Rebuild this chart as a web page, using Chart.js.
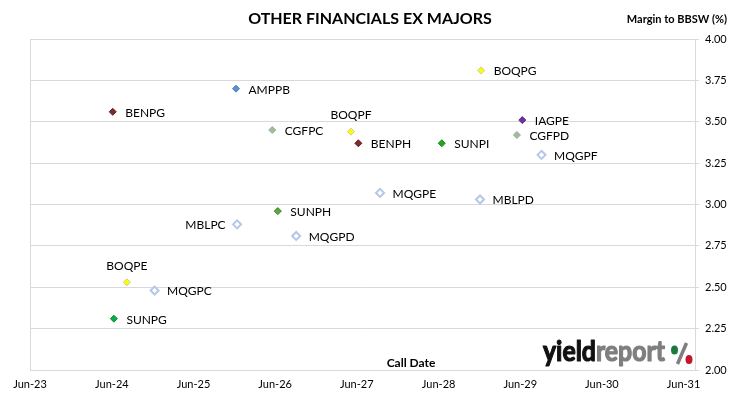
<!DOCTYPE html>
<html>
<head>
<meta charset="utf-8">
<script src="https://cdn.jsdelivr.net/npm/chart.js@4.4.0/dist/chart.umd.min.js"></script>
<style>
  html, body { margin: 0; padding: 0; background: #fff; }
  #wrap { width: 730px; height: 399px; }
</style>
</head>
<body>
<div id="wrap"><canvas id="chart" width="730" height="399"></canvas></div>
<script>
// data
const securities = ['BENPG', 'AMPPB', 'CGFPC', 'BOQPF', 'BENPH', 'SUNPI', 'BOQPG', 'IAGPE', 'CGFPD',
                    'MQGPF', 'MQGPE', 'MBLPD', 'SUNPH', 'MBLPC', 'MQGPD', 'BOQPE', 'MQGPC', 'SUNPG'];
const callDates = ['2024-06-05', '2025-12-08', '2026-05-19', '2027-05-06', '2027-06-08', '2028-06-15',
                   '2028-12-08', '2029-06-10', '2029-05-17', '2029-09-04', '2027-09-13', '2028-12-03',
                   '2026-06-13', '2025-12-13', '2026-09-03', '2024-08-07', '2024-12-09', '2024-06-10'];
const margins = [3.56, 3.70, 3.45, 3.44, 3.37, 3.37, 3.81, 3.51, 3.42,
                 3.30, 3.07, 3.03, 2.96, 2.88, 2.81, 2.53, 2.48, 2.31];
const xTickDates = ['2023-06-01', '2024-06-01', '2025-06-01', '2026-06-01', '2027-06-01',
                    '2028-06-01', '2029-06-01', '2030-06-01', '2031-06-01'];
const xTickLabels = ['Jun-23', 'Jun-24', 'Jun-25', 'Jun-26', 'Jun-27', 'Jun-28', 'Jun-29', 'Jun-30', 'Jun-31'];
const yTicks = [2.00, 2.25, 2.50, 2.75, 3.00, 3.25, 3.50, 3.75, 4.00];

// per-issuer marker look
const issuerStyle = {
    BEN: { fill: '#7b2b2b', border: '#5e2020', r: 3.5, bw: 1 },
    AMP: { fill: '#5b8fd6', border: '#4a7cc0', r: 3.5, bw: 1 },
    CGF: { fill: '#a9bd82', border: '#8ea9c8', r: 3.5, bw: 1 },
    BOQ: { fill: '#ffff00', border: '#c9c99a', r: 3.5, bw: 1 },
    SUN: { fill: '#22a524', border: '#1b8a1d', r: 3.5, bw: 1 },
    IAG: { fill: '#7030a0', border: '#5c2785', r: 3.5, bw: 1 },
    MQG: { fill: '#ffffff', border: '#b4c7e7', r: 4, bw: 2 },
    MBL: { fill: '#ffffff', border: '#b4c7e7', r: 4, bw: 2 }
};
const sunColours = { SUNPG: '#00b050', SUNPH: '#6e9f3c', SUNPI: '#22a524' };
const labelSide = { BOQPF: 'above', BOQPE: 'above', MBLPC: 'left' };

const FONT = 'Lato, "Open Sans", sans-serif';
const base = Date.UTC(2023, 5, 1);
function yearsFromBase(s) {
    const p = s.split('-').map(Number);
    return (Date.UTC(p[0], p[1] - 1, p[2]) - base) / (365.25 * 86400000);
}

const xValues = callDates.map(yearsFromBase);
const xTicks = xTickDates.map(yearsFromBase);
const points = securities.map((s, i) => ({ x: xValues[i], y: margins[i] }));

const styles = securities.map(s => issuerStyle[s.slice(0, 3)]);
const fills = securities.map((s, i) => sunColours[s] || styles[i].fill);

const textPlugin = {
    id: 'texts',
    beforeDraw(chart) {
        const ctx = chart.ctx, a = chart.chartArea;
        ctx.save();
        ctx.strokeStyle = '#d9d9d9';
        ctx.lineWidth = 1;
        ctx.beginPath();
        ctx.moveTo(Math.round(a.left) + 0.5, a.top);
        ctx.lineTo(Math.round(a.left) + 0.5, a.bottom);
        ctx.stroke();
        ctx.restore();
    },
    afterDatasetsDraw(chart) {
        const ctx = chart.ctx;
        const meta = chart.getDatasetMeta(0);
        ctx.save();
        ctx.fillStyle = '#000';
        ctx.font = '12px ' + FONT;
        meta.data.forEach((pt, i) => {
            const name = securities[i];
            const side = labelSide[name] || 'right';
            if (side === 'right') {
                ctx.textAlign = 'left'; ctx.textBaseline = 'middle';
                ctx.fillText(name, pt.x + 12.5, pt.y + 1);
            } else if (side === 'left') {
                ctx.textAlign = 'right'; ctx.textBaseline = 'middle';
                ctx.fillText(name, pt.x - 11.5, pt.y + 1);
            } else {
                ctx.textAlign = 'center'; ctx.textBaseline = 'middle';
                ctx.fillText(name, pt.x, pt.y - 16.5);
            }
        });

        // titles
        ctx.textBaseline = 'middle';
        ctx.textAlign = 'center';
        ctx.font = 'bold 16px ' + FONT;
        ctx.fillText('OTHER FINANCIALS EX MAJORS', 370, 19);
        ctx.textAlign = 'right';
        ctx.font = 'bold 11px ' + FONT;
        ctx.fillText('Margin to BBSW (%)', 727, 19);
        ctx.textAlign = 'center';
        ctx.font = 'bold 12px ' + FONT;
        ctx.fillText('Call Date', 411, 363);

        // yieldreport logo
        ctx.textAlign = 'left';
        ctx.textBaseline = 'alphabetic';
        ctx.font = 'bold 28px ' + FONT;
        const w1 = ctx.measureText('yield').width;
        const w2 = ctx.measureText('report').width;
        const sx = 122 / (w1 + w2);
        ctx.save();
        ctx.translate(543, 361);
        ctx.scale(sx, 1);
        ctx.lineWidth = 1.2;
        ctx.lineJoin = 'round';
        ctx.fillStyle = ctx.strokeStyle = '#111';
        ctx.fillText('yield', 0, 0);
        ctx.strokeText('yield', 0, 0);
        ctx.fillStyle = ctx.strokeStyle = '#7f7f7f';
        ctx.fillText('report', w1, 0);
        ctx.strokeText('report', w1, 0);
        ctx.restore();
        ctx.strokeStyle = '#7f7f7f';
        ctx.lineWidth = 3.5;
        ctx.beginPath();
        ctx.moveTo(677.5, 364);
        ctx.lineTo(686.5, 343);
        ctx.stroke();
        ctx.fillStyle = '#1d7a3e';
        ctx.beginPath(); ctx.ellipse(674.5, 350, 3.5, 4.5, 0, 0, Math.PI * 2); ctx.fill();
        ctx.fillStyle = '#c4152c';
        ctx.beginPath(); ctx.ellipse(689, 359.5, 3.5, 4.5, 0, 0, Math.PI * 2); ctx.fill();
        ctx.restore();
    }
};

new Chart(document.getElementById('chart'), {
    type: 'scatter',
    data: {
        datasets: [{
            data: points,
            pointStyle: 'rectRot',
            pointRadius: styles.map(s => s.r),
            pointHoverRadius: styles.map(s => s.r),
            pointBackgroundColor: fills,
            pointBorderColor: styles.map(s => s.border),
            pointBorderWidth: styles.map(s => s.bw)
        }]
    },
    options: {
        responsive: false,
        animation: false,
        devicePixelRatio: 1,
        layout: { padding: { left: 30, top: 39, right: 0, bottom: 0 } },
        plugins: { legend: { display: false }, tooltip: { enabled: false } },
        scales: {
            x: {
                type: 'linear',
                min: 0,
                max: 8.14,
                afterBuildTicks: axis => { axis.ticks = xTicks.map(v => ({ value: v })); },
                afterFit: axis => { axis.height = 29; },
                ticks: {
                    callback: (v, i) => xTickLabels[i],
                    font: { family: FONT, size: 11 },
                    color: '#000',
                    padding: 8,
                    maxRotation: 0
                },
                grid: { display: false, drawTicks: false },
                border: { color: '#d9d9d9' }
            },
            y: {
                position: 'right',
                min: 2,
                max: 4,
                afterBuildTicks: axis => { axis.ticks = yTicks.map(v => ({ value: v })); },
                afterFit: axis => { axis.width = 35; },
                ticks: {
                    callback: v => v.toFixed(2),
                    font: { family: FONT, size: 11 },
                    color: '#000',
                    padding: 6
                },
                grid: { color: '#d9d9d9', tickLength: 4 },
                border: { color: '#d9d9d9' }
            }
        }
    },
    plugins: [textPlugin]
});
</script>
</body>
</html>
